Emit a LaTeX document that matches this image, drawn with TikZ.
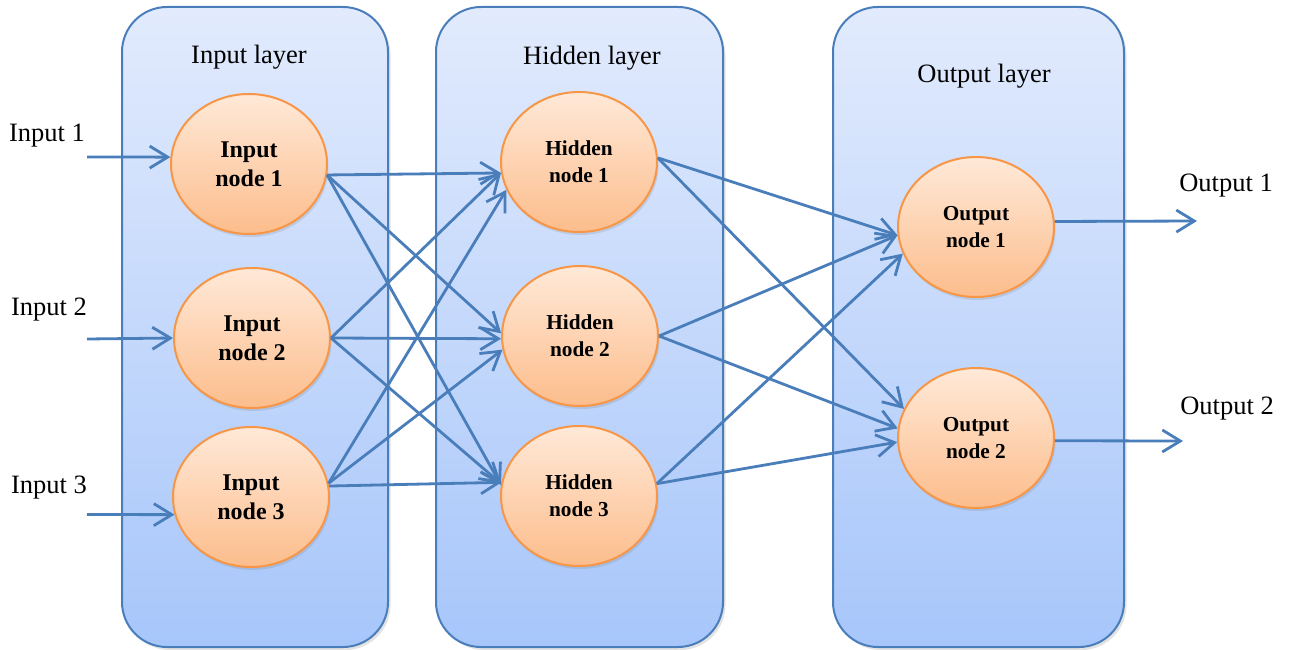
\documentclass[tikz,border=0pt]{standalone}
\usepackage{fontspec}
\setmainfont{Liberation Serif}
\usetikzlibrary{arrows.meta,shapes.geometric,shadows}

\definecolor{linkblue}{RGB}{74,126,187}
\definecolor{layertop}{RGB}{226,235,253}
\definecolor{layerbot}{RGB}{167,198,250}
\definecolor{unittop}{RGB}{255,233,216}
\definecolor{unitbot}{RGB}{252,189,140}
\definecolor{unitedge}{RGB}{247,150,70}

\begin{document}
\begin{tikzpicture}[x=1pt,y=-1pt,
  layerbox/.style={draw=linkblue, line width=2pt, rounded corners=45pt,
    top color=layertop, bottom color=layerbot,
    minimum width=#1, minimum height=640pt, inner sep=0pt,
    drop shadow={opacity=0.22, shadow xshift=2.5pt, shadow yshift=-3pt}},
  layertitle/.style={font=\fontsize{26.5}{31}\selectfont},
  unit/.style={ellipse, draw=unitedge, line width=2pt,
    top color=unittop, bottom color=unitbot,
    minimum width=156pt, minimum height=140pt, inner sep=0pt, align=center,
    font=\bfseries\fontsize{24}{29}\selectfont,
    drop shadow={opacity=0.22, shadow xshift=1.5pt, shadow yshift=-3pt}},
  smallunit/.style={unit, font=\bfseries\fontsize{21.3}{27}\selectfont},
  sidelabel/.style={font=\fontsize{26.5}{31}\selectfont},
  link/.style={draw=linkblue, line width=2.8pt,
    -{Straight Barb[length=18pt,width=22pt]}}
]
\useasboundingbox (0,0) rectangle (1290,650);

% layer panels
\node[layerbox=266pt] (Lin)  at (255,327)   {};
\node[layerbox=287pt] (Lhid) at (579.5,327) {};
\node[layerbox=291pt] (Lout) at (978.5,327) {};
\node[layertitle] (tin)  at (249,57) {Input layer};
\node[layertitle] (thid) at (592,58) {Hidden layer};
\node[layertitle] (tout) at (984,76) {Output layer};

% neurons
\node[unit] (i1) at (249,164) {Input\\node 1};
\node[unit] (i2) at (252,338) {Input\\node 2};
\node[unit] (i3) at (251,497) {Input\\node 3};
\node[smallunit] (h1) at (579,162) {Hidden\\node 1};
\node[smallunit] (h2) at (580,336) {Hidden\\node 2};
\node[smallunit] (h3) at (579,496) {Hidden\\node 3};
\node[smallunit] (o1) at (976,227) {Output\\node 1};
\node[smallunit] (o2) at (976,438) {Output\\node 2};

% external inputs and outputs
\coordinate (x1) at (87,157);
\coordinate (x2) at (87,339);
\coordinate (x3) at (87,514.5);
\coordinate (y1) at (1197,221);
\coordinate (y2) at (1183,441);
\node[sidelabel] (lx1) at (47,136)  {Input 1};
\node[sidelabel] (lx2) at (49,310)  {Input 2};
\node[sidelabel] (lx3) at (49,488)  {Input 3};
\node[sidelabel] (ly1) at (1226,186) {Output 1};
\node[sidelabel] (ly2) at (1227,409) {Output 2};

\draw[link] (x1) -- (i1.175);
\draw[link] (x2) -- (i2.180);
\draw[link] (x3) -- (i3.193);

% input -> hidden
\draw[link] (i1.-8) -- (h1.188);
\draw[link] (i1.-8) -- (h2.178);
\draw[link] (i1.-8) -- (h3.172);
\draw[link] (i2.0) -- (h1.188);
\draw[link] (i2.0) -- (h2.182);
\draw[link] (i2.0) -- (h3.171);
\draw[link] (i3.10) -- (h1.201);
\draw[link] (i3.10) -- (h2.190);
\draw[link] (i3.8) -- (h3.170);

% hidden -> output
\draw[link] (h1.3) -- (o1.186);
\draw[link] (h1.3) -- (o2.158);
\draw[link] (h2.0) -- (o1.186);
\draw[link] (h2.0) -- (o2.173);
\draw[link] (h3.9) -- (o1.200);
\draw[link] (h3.9) -- (o2.183);

\draw[link] (o1.4) -- (y1);
\draw[link] (o2.-2) -- (y2);
\end{tikzpicture}
\end{document}
